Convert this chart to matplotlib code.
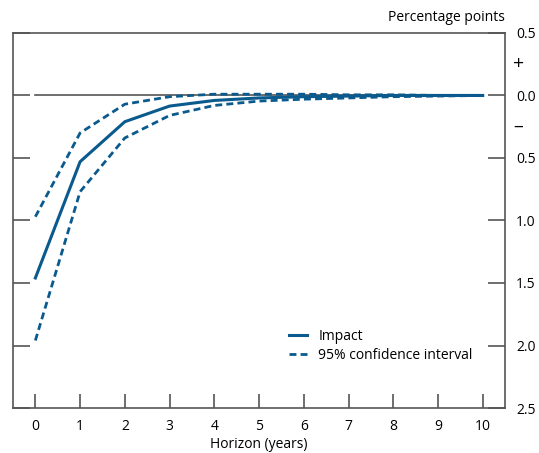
import numpy as np
import matplotlib.pyplot as plt

plt.rcParams['font.family'] = ['Open Sans', 'DejaVu Sans']

# Data (percentage points, negative = below zero)
horizon = [0, 1, 2, 3, 4, 5, 6, 7, 8, 9, 10]
impact = [-1.46, -0.53, -0.21, -0.085, -0.04, -0.02, -0.01, -0.005, 0.0, 0.0, 0.0]
ci_upper = [-0.97, -0.30, -0.07, -0.01, 0.01, 0.01, 0.01, 0.005, 0.005, 0.0, 0.0]
ci_lower = [-1.96, -0.77, -0.34, -0.16, -0.08, -0.045, -0.03, -0.02, -0.01, -0.005, 0.0]

right_ticks = [0.5, 0.0, -0.5, -1.0, -1.5, -2.0, -2.5]
right_labels = ['0.5', '0.0', '0.5', '1.0', '1.5', '2.0', '2.5']

blue = '#0b5a8e'
grey = '#555555'

fig = plt.figure(figsize=(5.39, 4.53), dpi=100)
ax = fig.add_axes([0.0241, 0.0993, 0.913, 0.828])

ax.plot(horizon, impact, color=blue, lw=2.2, label='Impact')
ax.plot(horizon, ci_upper, color=blue, lw=2, dashes=(2.5, 1.5),
        label='95% confidence interval')
ax.plot(horizon, ci_lower, color=blue, lw=2, dashes=(2.5, 1.5))

# zero line from first to last horizon
ax.plot([horizon[0], horizon[-1]], [0, 0], color=grey, lw=1.2, zorder=1)

ax.set_xlim(-0.5, 10.5)
ax.set_ylim(-2.5, 0.5)

for s in ax.spines.values():
    s.set_color(grey)
    s.set_linewidth(1.2)

ax.set_xticks(horizon)
ax.tick_params(axis='x', direction='in', length=10, width=1.2, color=grey,
               labelsize=10, pad=8)
ax.set_xlabel('Horizon (years)', fontsize=10, labelpad=2)

ax.set_yticks(right_ticks)
ax.set_yticklabels(right_labels)
ax.tick_params(axis='y', direction='in', length=12, width=1.2, color=grey,
               left=True, right=True, labelleft=False, labelright=True,
               labelsize=10, pad=8)

ax.text(1.017, 0.25, '+', transform=ax.get_yaxis_transform(), fontsize=14,
        ha='left', va='center')
ax.text(1.017, -0.25, '–', transform=ax.get_yaxis_transform(), fontsize=14,
        ha='left', va='center')
ax.text(1.0, 1.02, 'Percentage points', transform=ax.transAxes,
        fontsize=10, ha='right', va='bottom')

ax.legend(loc='upper left', bbox_to_anchor=(0.55, 0.225), frameon=False,
          fontsize=10, handlelength=1.3, handletextpad=0.8,
          labelspacing=0.3, borderaxespad=0)

fig.savefig('out.png', dpi=100)
